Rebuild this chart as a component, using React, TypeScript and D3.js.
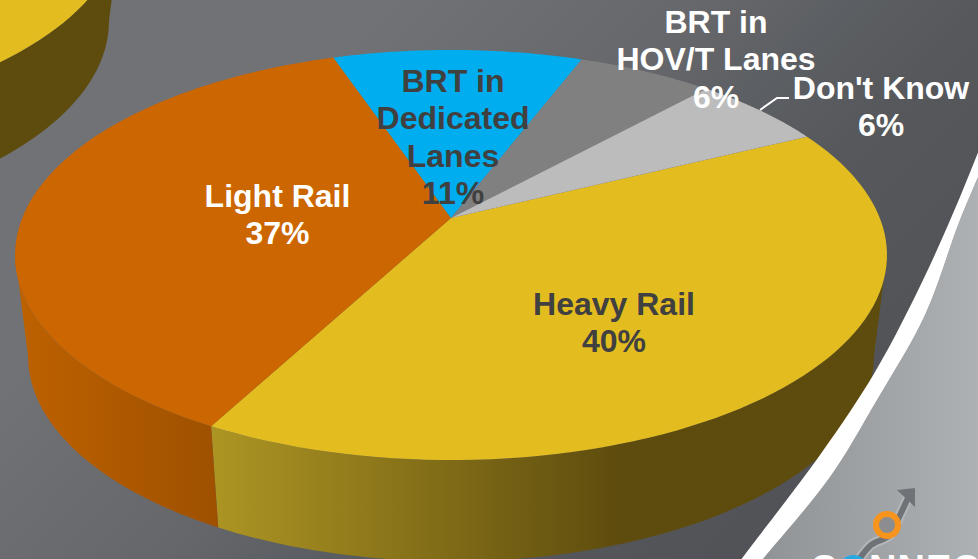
import React from 'react';
import * as d3 from 'd3';

const W = 978, H = 559;
const categories = ['Heavy Rail', 'Light Rail', 'BRT in Dedicated Lanes', 'BRT in HOV/T Lanes', "Don't Know"];
const values = [40.1, 37, 11, 6, 5.9];
const topColors = ['#e3bd20', '#cc6600', '#00aeef', '#808080', '#bcbcbc'];
const labelLines = [['Heavy Rail', '40%'], ['Light Rail', '37%'], ['BRT in', 'Dedicated', 'Lanes', '11%'], ['BRT in', 'HOV/T Lanes', '6%'], ["Don't Know", '6%']];
const labelColors = ['#404040', '#ffffff', '#404040', '#ffffff', '#ffffff'];
const labelX = [614, 277.5, 453, 716, 881];
const labelY = [315, 207, 92, 33, 99];
const startDeg = 63.7;
const bandOuter: [number, number][] = [[990, 122], [960, 197], [923, 280], [875, 372], [820, 455], [743, 557], [730, 575]];
const bandInner: [number, number][] = [[990, 150], [960, 220], [925, 315], [877, 400], [830, 477], [763, 559], [750, 575]];
const logoPath: [number, number][] = [[858, 561], [871, 545], [890, 535], [900, 515], [908, 498]];

const rad = (d: number) => (d * Math.PI) / 180;
const pie = d3.pie<number>().sort(null).startAngle(rad(startDeg)).endAngle(rad(startDeg + 360));
const slices = pie(values);

// perspective view of the round pie: top face and the smaller face under it
const k = -0.1805;
const silhouette = Math.acos(k);
const project = (a: number, cx: number, rx: number, b: number, c: number): [number, number] => {
  const u = Math.sin(a), v = -Math.cos(a), d = 1 + k * v;
  return [cx + (rx * u) / d, (b + c * v) / d];
};
const top = (a: number) => project(a, 451, 428.8, 218, 159);
const bottom = (a: number) => project(a, 451, 416, 319, 141);
const line = d3.line();
const range = (a0: number, a1: number) => d3.range(0, 81).map((i) => a0 + ((a1 - a0) * i) / 80);
const wedge = (a0: number, a1: number) => line([[451, 218], ...range(a0, a1).map(top)]) + 'Z';
const wall = (a0: number, a1: number) => {
  const r = range(a0, a1);
  return line([...r.map(top), ...[...r].reverse().map(bottom)]) + 'Z';
};
const smooth = d3.line().curve(d3.curveCatmullRom.alpha(0.5));

function Disc({ sideFill }: { sideFill: (i: number) => string }) {
  return (
    <g>
      {slices.map((s, i) => {
        const a0 = Math.max(s.startAngle, silhouette), a1 = Math.min(s.endAngle, 2 * Math.PI - silhouette);
        return a1 > a0 ? <path key={i} d={wall(a0, a1)} fill={sideFill(i)} /> : null;
      })}
      {slices.map((s, i) => (
        <path key={i} d={wedge(s.startAngle, s.endAngle)} fill={topColors[i]} />
      ))}
    </g>
  );
}

export default function App() {
  const outer = smooth(bandOuter) as string;
  const inner = smooth(bandInner) as string;
  const innerRev = smooth([...bandInner].reverse()) as string;
  return (
    <svg width={W} height={H} viewBox={`0 0 ${W} ${H}`} style={{ position: 'fixed', left: 0, top: 0, display: 'block' }} fontFamily="'Liberation Sans', Arial, sans-serif">
      <defs>
        <linearGradient id="bg" gradientUnits="userSpaceOnUse" x1="0" y1="0" x2="700" y2="700">
          <stop offset="0" stopColor="#707276" />
          <stop offset="0.28" stopColor="#707276" />
          <stop offset="0.51" stopColor="#66676b" />
          <stop offset="0.6" stopColor="#5c5f63" />
          <stop offset="0.71" stopColor="#56585c" />
          <stop offset="1" stopColor="#4f5156" />
        </linearGradient>
        <linearGradient id="corner" gradientUnits="userSpaceOnUse" x1="760" y1="0" x2="978" y2="0">
          <stop offset="0" stopColor="#909396" />
          <stop offset="1" stopColor="#aeb1b4" />
        </linearGradient>
        <linearGradient id="sideYellow" gradientUnits="userSpaceOnUse" x1="212" y1="0" x2="620" y2="0">
          <stop offset="0" stopColor="#ad9523" />
          <stop offset="1" stopColor="#5e4c0e" />
        </linearGradient>
        <linearGradient id="sideOrange" gradientUnits="userSpaceOnUse" x1="20" y1="0" x2="215" y2="0">
          <stop offset="0" stopColor="#bd6100" />
          <stop offset="1" stopColor="#9f5100" />
        </linearGradient>
      </defs>
      <rect width={W} height={H} fill="url(#bg)" />
      <g transform="translate(-765,-335)">
        <Disc sideFill={() => '#5e4c0e'} />
      </g>
      <Disc sideFill={(i) => (i === 0 ? 'url(#sideYellow)' : 'url(#sideOrange)')} />
      <path d={`${inner}L${W + 20},${H + 20}L${W + 20},100Z`} fill="url(#corner)" />
      <path d={`${outer}L${bandInner[bandInner.length - 1].join(',')}${innerRev.replace(/^M[^C]*/, '')}Z`} fill="#ffffff" />
      <path d="M760,110 L777,98 L789,98" fill="none" stroke="#ffffff" strokeWidth={2} />
      <path d={smooth(logoPath) as string} fill="none" stroke="#b4b7ba" strokeWidth={10} />
      <path d={smooth(logoPath) as string} fill="none" stroke="#6f7276" strokeWidth={6} />
      <path d="M897,490 L915,488 L915,507 Z" fill="#6f7276" />
      <circle cx={887} cy={525} r={11} fill="#8b8d90" stroke="#f7941e" strokeWidth={6} />
      <text x={810} y={582} fontSize={38} fontWeight={700} fill="#ffffff" letterSpacing={1}>
        C<tspan fill="#29a9e0">O</tspan>NNECT
      </text>
      {labelLines.map((lines, i) => (
        <text key={categories[i]} textAnchor="middle" fontSize={32} fontWeight={700} fill={labelColors[i]}>
          {lines.map((t, j) => (
            <tspan key={j} x={labelX[i]} y={labelY[i] + j * 37.3}>{t}</tspan>
          ))}
        </text>
      ))}
    </svg>
  );
}
